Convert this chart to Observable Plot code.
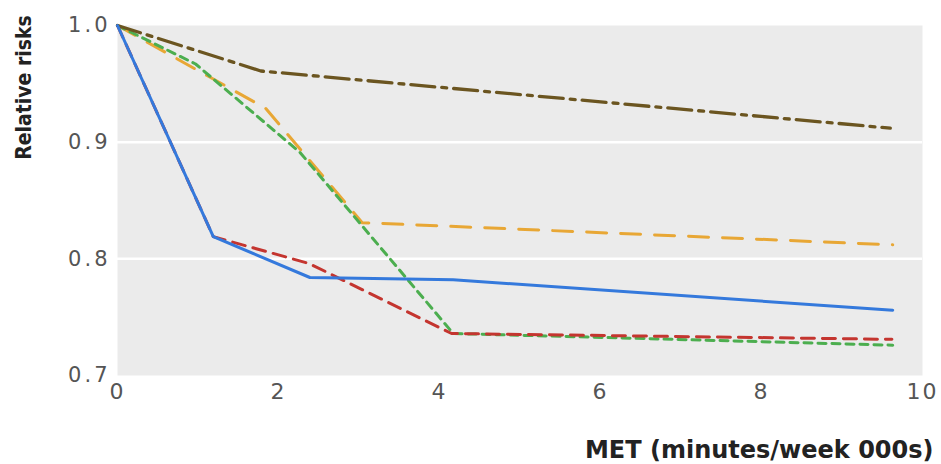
<!DOCTYPE html>
<html><head><meta charset="utf-8">
<script src="https://cdn.jsdelivr.net/npm/d3@7"></script>
<script src="https://cdn.jsdelivr.net/npm/@observablehq/plot@0.6"></script>
<style>
body{margin:0;background:#fff}
g[aria-label="y-axis tick label"] text{letter-spacing:3px}
g[aria-label="x-axis tick label"] text{letter-spacing:2px}
</style>
</head><body><div id="chart"></div>
<script>
// x: MET (minutes/week, thousands); y: relative risk
const blueX = [0, 1.19, 2.39, 4.17, 9.63];
const blueY = [1.0, 0.819, 0.784, 0.782, 0.756];
const redX = [0, 1.19, 2.38, 4.15, 9.62];
const redY = [1.0, 0.819, 0.796, 0.736, 0.731];
const greenX = [0, 0.97, 2.27, 4.17, 9.63];
const greenY = [1.0, 0.967, 0.891, 0.736, 0.726];
const orangeX = [0, 1.84, 3.04, 9.63];
const orangeY = [1.0, 0.929, 0.831, 0.812];
const brownX = [0, 1.78, 9.6];
const brownY = [1.0, 0.961, 0.912];

const xTicks = [0, 2, 4, 6, 8, 10];
const yTicks = [0.7, 0.8, 0.9, 1.0];
const gridY = [0.8, 0.9];
const xTitle = "MET (minutes/week 000s)";
const yTitle = "Relative risks";

const pts = (xs, ys) => xs.map((x, i) => ({x, y: ys[i]}));

const lineStyle = {x: "x", y: "y", strokeWidth: 3, strokeLinejoin: "round"};

const chart = Plot.plot({
  width: 941,
  height: 464,
  marginLeft: 117,
  marginRight: 19,
  marginTop: 25,
  marginBottom: 89,
  x: {domain: [0, 10]},
  y: {domain: [0.7, 1.0]},
  style: {fontFamily: "DejaVu Sans", background: "#fff"},
  marks: [
    Plot.frame({fill: "#ebebeb", stroke: null}),
    Plot.ruleY(gridY, {stroke: "#fff", strokeWidth: 2.5}),
    Plot.axisX({ticks: xTicks, tickSize: 0, tickPadding: 8, fontSize: 22, fill: "#555", label: null}),
    Plot.axisY({ticks: yTicks, tickSize: 0, tickPadding: 7, fontSize: 21, fill: "#555", tickFormat: d3.format(".1f"), label: null}),
    Plot.line(pts(orangeX, orangeY), {...lineStyle, stroke: "#e8a735", strokeDasharray: "20 14"}),
    Plot.line(pts(greenX, greenY), {...lineStyle, stroke: "#4cae4f", strokeDasharray: "8 6"}),
    Plot.line(pts(redX, redY), {...lineStyle, stroke: "#c4352f", strokeDasharray: "13 8"}),
    Plot.line(pts(brownX, brownY), {...lineStyle, strokeWidth: 3.3, stroke: "#6b5520", strokeDasharray: "24 7 5 7"}),
    Plot.line(pts(blueX, blueY), {...lineStyle, stroke: "#3479dc"}),
    Plot.text([yTitle], {frameAnchor: "top-left", textAnchor: "middle", lineAnchor: "middle", rotate: -90, dx: -93, dy: 62, fontSize: 21, fontWeight: "bold", fill: "#222", fontFamily: "DejaVu Sans Condensed, DejaVu Sans"}),
    Plot.text([xTitle], {frameAnchor: "bottom-right", textAnchor: "end", lineAnchor: "middle", dx: 11, dy: 75, fontSize: 24, fontWeight: "bold", fill: "#222", fontFamily: "DejaVu Sans"})
  ]
});
document.getElementById("chart").appendChild(chart);
</script>
</body></html>
